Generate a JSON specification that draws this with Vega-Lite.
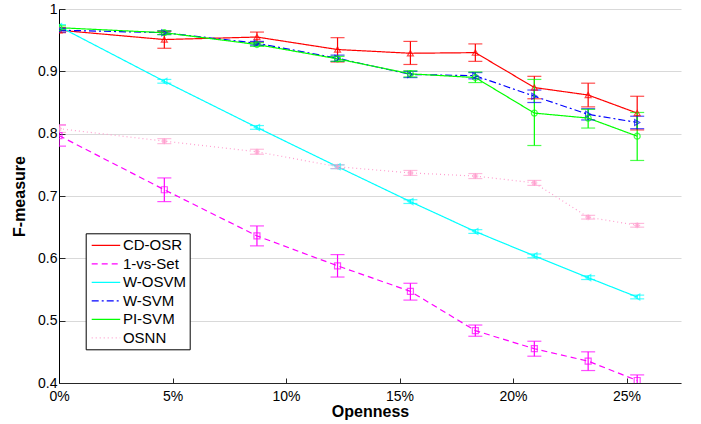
{
  "$schema": "https://vega.github.io/schema/vega-lite/v6.json",
  "width": 622,
  "height": 374,
  "autosize": {"type": "none"},
  "padding": {"left": 59, "top": 9, "right": 20, "bottom": 41},
  "background": "white",
  "config": {
    "view": {"stroke": null},
    "font": "Liberation Sans"
  },
  "data": {
    "values": [
      {"method": "CD-OSR", "x": 0.0, "y": 0.966, "lo": 0.962, "hi": 0.970},
      {"method": "CD-OSR", "x": 0.0464, "y": 0.951, "lo": 0.937, "hi": 0.964},
      {"method": "CD-OSR", "x": 0.0872, "y": 0.955, "lo": 0.947, "hi": 0.963},
      {"method": "CD-OSR", "x": 0.1227, "y": 0.935, "lo": 0.915, "hi": 0.954},
      {"method": "CD-OSR", "x": 0.1548, "y": 0.929, "lo": 0.911, "hi": 0.948},
      {"method": "CD-OSR", "x": 0.1834, "y": 0.930, "lo": 0.916, "hi": 0.944},
      {"method": "CD-OSR", "x": 0.2094, "y": 0.874, "lo": 0.856, "hi": 0.892},
      {"method": "CD-OSR", "x": 0.2331, "y": 0.862, "lo": 0.843, "hi": 0.881},
      {"method": "CD-OSR", "x": 0.2547, "y": 0.833, "lo": 0.806, "hi": 0.860},
      {"method": "1-vs-Set", "x": 0.0, "y": 0.797, "lo": 0.780, "hi": 0.814},
      {"method": "1-vs-Set", "x": 0.0464, "y": 0.710, "lo": 0.691, "hi": 0.729},
      {"method": "1-vs-Set", "x": 0.0872, "y": 0.636, "lo": 0.620, "hi": 0.652},
      {"method": "1-vs-Set", "x": 0.1227, "y": 0.588, "lo": 0.570, "hi": 0.606},
      {"method": "1-vs-Set", "x": 0.1548, "y": 0.547, "lo": 0.533, "hi": 0.560},
      {"method": "1-vs-Set", "x": 0.1834, "y": 0.484, "lo": 0.475, "hi": 0.493},
      {"method": "1-vs-Set", "x": 0.2094, "y": 0.455, "lo": 0.443, "hi": 0.467},
      {"method": "1-vs-Set", "x": 0.2331, "y": 0.435, "lo": 0.420, "hi": 0.450},
      {"method": "1-vs-Set", "x": 0.2547, "y": 0.404, "lo": 0.395, "hi": 0.413},
      {"method": "W-OSVM", "x": 0.0, "y": 0.972, "lo": 0.969, "hi": 0.975},
      {"method": "W-OSVM", "x": 0.0464, "y": 0.884, "lo": 0.881, "hi": 0.887},
      {"method": "W-OSVM", "x": 0.0872, "y": 0.810, "lo": 0.807, "hi": 0.813},
      {"method": "W-OSVM", "x": 0.1227, "y": 0.747, "lo": 0.744, "hi": 0.750},
      {"method": "W-OSVM", "x": 0.1548, "y": 0.691, "lo": 0.688, "hi": 0.694},
      {"method": "W-OSVM", "x": 0.1834, "y": 0.643, "lo": 0.640, "hi": 0.646},
      {"method": "W-OSVM", "x": 0.2094, "y": 0.604, "lo": 0.601, "hi": 0.607},
      {"method": "W-OSVM", "x": 0.2331, "y": 0.569, "lo": 0.566, "hi": 0.572},
      {"method": "W-OSVM", "x": 0.2547, "y": 0.538, "lo": 0.535, "hi": 0.541},
      {"method": "W-SVM", "x": 0.0, "y": 0.966, "lo": 0.963, "hi": 0.969},
      {"method": "W-SVM", "x": 0.0464, "y": 0.962, "lo": 0.959, "hi": 0.965},
      {"method": "W-SVM", "x": 0.0872, "y": 0.945, "lo": 0.942, "hi": 0.948},
      {"method": "W-SVM", "x": 0.1227, "y": 0.921, "lo": 0.916, "hi": 0.926},
      {"method": "W-SVM", "x": 0.1548, "y": 0.895, "lo": 0.890, "hi": 0.900},
      {"method": "W-SVM", "x": 0.1834, "y": 0.893, "lo": 0.888, "hi": 0.898},
      {"method": "W-SVM", "x": 0.2094, "y": 0.860, "lo": 0.850, "hi": 0.870},
      {"method": "W-SVM", "x": 0.2331, "y": 0.831, "lo": 0.822, "hi": 0.840},
      {"method": "W-SVM", "x": 0.2547, "y": 0.818, "lo": 0.808, "hi": 0.828},
      {"method": "PI-SVM", "x": 0.0, "y": 0.970, "lo": 0.967, "hi": 0.973},
      {"method": "PI-SVM", "x": 0.0464, "y": 0.962, "lo": 0.959, "hi": 0.965},
      {"method": "PI-SVM", "x": 0.0872, "y": 0.943, "lo": 0.940, "hi": 0.946},
      {"method": "PI-SVM", "x": 0.1227, "y": 0.920, "lo": 0.916, "hi": 0.924},
      {"method": "PI-SVM", "x": 0.1548, "y": 0.896, "lo": 0.891, "hi": 0.901},
      {"method": "PI-SVM", "x": 0.1834, "y": 0.890, "lo": 0.882, "hi": 0.899},
      {"method": "PI-SVM", "x": 0.2094, "y": 0.833, "lo": 0.781, "hi": 0.887},
      {"method": "PI-SVM", "x": 0.2331, "y": 0.825, "lo": 0.809, "hi": 0.839},
      {"method": "PI-SVM", "x": 0.2547, "y": 0.796, "lo": 0.757, "hi": 0.834},
      {"method": "OSNN", "x": 0.0, "y": 0.808, "lo": 0.802, "hi": 0.814},
      {"method": "OSNN", "x": 0.0464, "y": 0.788, "lo": 0.784, "hi": 0.792},
      {"method": "OSNN", "x": 0.0872, "y": 0.771, "lo": 0.767, "hi": 0.775},
      {"method": "OSNN", "x": 0.1227, "y": 0.747, "lo": 0.744, "hi": 0.750},
      {"method": "OSNN", "x": 0.1548, "y": 0.737, "lo": 0.733, "hi": 0.741},
      {"method": "OSNN", "x": 0.1834, "y": 0.732, "lo": 0.728, "hi": 0.736},
      {"method": "OSNN", "x": 0.2094, "y": 0.721, "lo": 0.717, "hi": 0.725},
      {"method": "OSNN", "x": 0.2331, "y": 0.666, "lo": 0.663, "hi": 0.669},
      {"method": "OSNN", "x": 0.2547, "y": 0.653, "lo": 0.650, "hi": 0.656}
    ]
  },
  "encoding": {
    "x": {
      "field": "x",
      "type": "quantitative",
      "scale": {"domain": [0, 0.274], "nice": false, "zero": false},
      "axis": {
        "title": "Openness",
        "values": [0, 0.05, 0.1, 0.15, 0.2, 0.25],
        "format": ".0%",
        "grid": false,
        "labelFlush": false,
        "domainColor": "#262626",
        "tickColor": "#262626",
        "tickSize": -5,
        "labelPadding": 11,
        "labelFontSize": 14,
        "labelColor": "black",
        "titleFontSize": 16,
        "titleFontWeight": "bold",
        "titleColor": "black",
        "titlePadding": 0
      }
    }
  },
  "layer": [
    {
      "mark": {"type": "line", "strokeWidth": 1.2, "clip": true},
      "encoding": {
        "y": {
          "field": "y",
          "type": "quantitative",
          "scale": {"domain": [0.4, 1], "nice": false, "zero": false},
          "axis": {
            "title": "F-measure",
            "values": [0.4, 0.5, 0.6, 0.7, 0.8, 0.9, 1],
            "format": "~g",
            "grid": true,
            "gridColor": "#d9d9d9",
            "gridWidth": 1.2,
            "domainColor": "black",
            "tickColor": "#262626",
            "tickSize": -6,
            "labelPadding": 8,
            "labelFontSize": 14,
            "labelColor": "black",
            "titleFontSize": 16,
            "titleFontWeight": "bold",
            "titleColor": "black",
            "titlePadding": 10
          }
        },
        "color": {
          "field": "method",
          "type": "nominal",
          "scale": {
            "domain": ["CD-OSR", "1-vs-Set", "W-OSVM", "W-SVM", "PI-SVM", "OSNN"],
            "range": ["#ff0000", "#ff00ff", "#00ffff", "#0000ff", "#00ff00", "#ff9fcf"]
          },
          "legend": {
            "title": null,
            "orient": "none",
            "legendX": 26.7,
            "legendY": 224.3,
            "direction": "vertical",
            "strokeColor": "black",
            "fillColor": "white",
            "padding": 3.5,
            "symbolType": "M-1.9,0H1.9",
            "symbolSize": 225,
            "symbolStrokeWidth": 1.3,
            "symbolOffset": 8.25,
            "labelOffset": 8.5,
            "labelFontSize": 15,
            "labelColor": "black",
            "rowPadding": 1.5,
            "labelLimit": 200
          }
        },
        "strokeDash": {
          "field": "method",
          "type": "nominal",
          "scale": {
            "domain": ["CD-OSR", "1-vs-Set", "W-OSVM", "W-SVM", "PI-SVM", "OSNN"],
            "range": [[1, 0], [6, 4], [1, 0], [7, 3, 2, 3], [1, 0], [1, 3]]
          },
          "legend": {
            "title": null,
            "orient": "none",
            "legendX": 26.7,
            "legendY": 224.3,
            "direction": "vertical",
            "strokeColor": "black",
            "fillColor": "white",
            "padding": 3.5,
            "symbolType": "M-1.9,0H1.9",
            "symbolSize": 225,
            "symbolStrokeWidth": 1.3,
            "symbolOffset": 8.25,
            "labelOffset": 8.5,
            "labelFontSize": 15,
            "labelColor": "black",
            "rowPadding": 1.5,
            "labelLimit": 200
          }
        }
      }
    },
    {
      "mark": {"type": "rule", "clip": true, "strokeWidth": 1.2},
      "encoding": {
        "y": {"field": "lo", "type": "quantitative"},
        "y2": {"field": "hi"},
        "stroke": {
          "field": "method",
          "type": "nominal",
          "scale": {
            "domain": ["OSNN", "PI-SVM", "W-SVM", "W-OSVM", "1-vs-Set", "CD-OSR"],
            "range": ["#ff9fcf", "#00ff00", "#0000ff", "#00ffff", "#ff00ff", "#ff0000"]
          },
          "legend": null
        }
      }
    },
    {
      "mark": {"type": "tick", "orient": "horizontal", "size": 14, "thickness": 1.2, "clip": true},
      "encoding": {
        "y": {"field": "lo", "type": "quantitative"},
        "fill": {
          "field": "method",
          "type": "nominal",
          "scale": {
            "domain": ["OSNN", "PI-SVM", "W-SVM", "W-OSVM", "1-vs-Set", "CD-OSR"],
            "range": ["#ff9fcf", "#00ff00", "#0000ff", "#00ffff", "#ff00ff", "#ff0000"]
          },
          "legend": null
        }
      }
    },
    {
      "mark": {"type": "tick", "orient": "horizontal", "size": 14, "thickness": 1.2, "clip": true},
      "encoding": {
        "y": {"field": "hi", "type": "quantitative"},
        "fill": {"field": "method", "type": "nominal", "legend": null}
      }
    },
    {
      "mark": {"type": "point", "filled": false, "size": 36, "strokeWidth": 1.2, "clip": true},
      "encoding": {
        "y": {"field": "y", "type": "quantitative"},
        "stroke": {"field": "method", "type": "nominal", "legend": null},
        "shape": {
          "field": "method",
          "type": "nominal",
          "scale": {
            "domain": ["OSNN", "PI-SVM", "W-SVM", "W-OSVM", "1-vs-Set", "CD-OSR"],
            "range": ["M-1,0L1,0M0,-1L0,1M-0.7,-0.7L0.7,0.7M-0.7,0.7L0.7,-0.7", "circle", "triangle-right", "triangle-left", "square", "triangle-up"]
          },
          "legend": null
        }
      }
    }
  ]
}
